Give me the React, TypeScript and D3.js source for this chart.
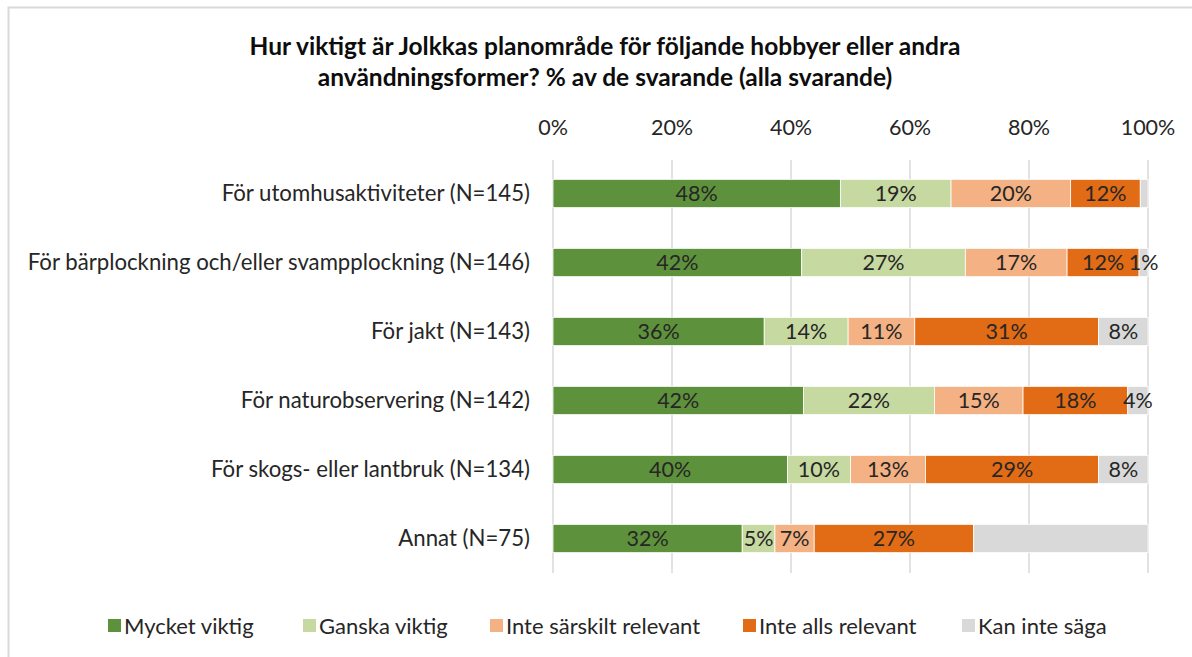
import React from 'react';
import * as d3 from 'd3';

const categories = [
  'För utomhusaktiviteter (N=145)',
  'För bärplockning och/eller svampplockning (N=146)',
  'För jakt (N=143)',
  'För naturobservering (N=142)',
  'För skogs- eller lantbruk (N=134)',
  'Annat (N=75)',
];

const seriesNames = ['Mycket viktig', 'Ganska viktig', 'Inte särskilt relevant', 'Inte alls relevant', 'Kan inte säga'];

// percentage values per series
const mycketViktig = [48.3, 41.8, 35.5, 42.1, 39.4, 31.8];
const ganskaViktig = [18.6, 27.5, 14.1, 22.0, 10.6, 5.5];
const inteSarskilt = [20.1, 17.1, 11.2, 14.9, 12.6, 6.6];
const inteAlls = [11.7, 12.1, 30.9, 17.6, 29.1, 26.8];
const kanInteSaga = [1.3, 1.5, 8.3, 3.4, 8.3, 29.3];

// data labels as shown (empty = hidden)
const mycketLabels = ['48%', '42%', '36%', '42%', '40%', '32%'];
const ganskaLabels = ['19%', '27%', '14%', '22%', '10%', '5%'];
const sarskiltLabels = ['20%', '17%', '11%', '15%', '13%', '7%'];
const allsLabels = ['12%', '12%', '31%', '18%', '29%', '27%'];
const kanLabels = ['', '1%', '8%', '4%', '8%', ''];

const tickValues = [0, 20, 40, 60, 80, 100];

const colors = ['#5e913b', '#c5d9a0', '#f4b183', '#e26b15', '#d9d9d9'];

const allValues = [mycketViktig, ganskaViktig, inteSarskilt, inteAlls, kanInteSaga];
const allLabels = [mycketLabels, ganskaLabels, sarskiltLabels, allsLabels, kanLabels];

const font = 'Lato, "Open Sans", sans-serif';

export default function App() {
  const width = 1192;
  const height = 657;

  const x = d3.scaleLinear().domain([0, 100]).range([553, 1148]);
  const y = d3.scaleBand<string>()
    .domain(categories)
    .range([159, 573])
    .paddingInner(0.59)
    .paddingOuter(0.295);

  const rows = categories.map((c, i) => {
    const obj: any = { cat: c };
    seriesNames.forEach((s, j) => { obj[s] = allValues[j][i]; });
    return obj;
  });
  const stacked = d3.stack<any>().keys(seriesNames)(rows);

  const legendX = [108, 303, 490, 743, 962];

  return (
    <svg width={width} height={height} style={{ position: 'absolute', left: 0, top: 0 }}>
      <rect x={0} y={0} width={width} height={height} fill="#fff" />
      <rect x={8.5} y={7.5} width={width + 10} height={height + 10} fill="none" stroke="#d9d9d9" strokeWidth={2} />

      <text x={605} y={55} textAnchor="middle" fontFamily={font} fontWeight="bold" fontSize={24.5} fill="#0d0d0d">
        Hur viktigt är Jolkkas planområde för följande hobbyer eller andra
      </text>
      <text x={605} y={86} textAnchor="middle" fontFamily={font} fontWeight="bold" fontSize={24.5} fill="#0d0d0d">
        användningsformer? % av de svarande (alla svarande)
      </text>

      {tickValues.map(t => (
        <g key={t}>
          <line x1={x(t)} x2={x(t)} y1={160} y2={573} stroke="#d9d9d9" strokeWidth={1.5} />
          <text x={x(t)} y={135} textAnchor="middle" fontFamily={font} fontSize={21.5} fill="#262626">{t}%</text>
        </g>
      ))}

      {categories.map(c => (
        <text key={c} x={530} y={(y(c) as number) + y.bandwidth() / 2} dy="0.35em" textAnchor="end"
          fontFamily={font} fontSize={22.2} fill="#262626">{c}</text>
      ))}

      {stacked.map((layer, j) => (
        <g key={layer.key}>
          {layer.map((d, i) => (
            <rect key={i} x={x(d[0])} y={y(categories[i])} width={x(d[1]) - x(d[0])} height={y.bandwidth()}
              fill={colors[j]} stroke="#fff" strokeWidth={0.8} />
          ))}
          {layer.map((d, i) => allLabels[j][i] ? (
            <text key={'l' + i} x={(x(d[0]) + x(d[1])) / 2} y={(y(categories[i]) as number) + y.bandwidth() / 2}
              dy="0.35em" textAnchor="middle" fontFamily={font} fontSize={21.5} fill="#262626">
              {allLabels[j][i]}
            </text>
          ) : null)}
        </g>
      ))}

      {seriesNames.map((s, j) => (
        <g key={s}>
          <rect x={legendX[j]} y={619} width={13} height={13} fill={colors[j]} />
          <text x={legendX[j] + 16} y={626} dy="0.35em" fontFamily={font} fontSize={22} fill="#262626">{s}</text>
        </g>
      ))}
    </svg>
  );
}
